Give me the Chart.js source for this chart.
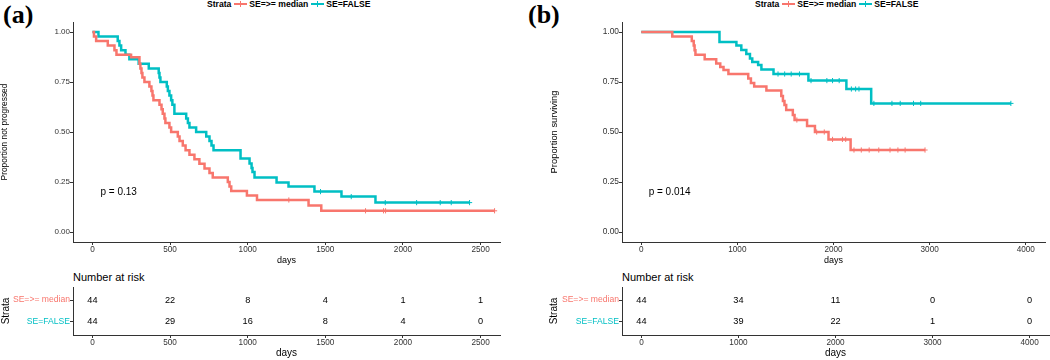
<!DOCTYPE html>
<html>
<head>
<title>Kaplan-Meier curves</title>
<script src="https://cdn.jsdelivr.net/npm/chart.js"></script>
<style>
  body { margin: 0; width: 1050px; height: 360px; position: relative; overflow: hidden; background: #fff;
         font-family: "Liberation Sans", Arial, sans-serif; }
  canvas { position: absolute; }
  .tag { position: absolute; top: 1px; font-family: "Liberation Serif", "Times New Roman", serif;
         font-weight: bold; font-size: 26px; line-height: 28px; color: #000; }
  .legend { position: absolute; top: -2px; height: 12px; display: flex; align-items: center;
            font-weight: bold; font-size: 8.6px; color: #000; white-space: nowrap; }
  .key { display: inline-block; position: relative; width: 13px; height: 2.6px; margin: 0 2px 0 3px; }
  .key::after { content: ""; position: absolute; left: 6px; top: -1.8px; width: 1px; height: 6px; background: inherit; }
  .risk-title { position: absolute; top: 271px; font-size: 11px; color: #000; }
</style>
</head>
<body>
<div class="tag" style="left:3px">(a)</div>
<div class="tag" style="left:528px">(b)</div>

<div class="legend" style="left:207px">Strata<span class="key" style="background:#F8766D"></span>SE=&gt;= median<span class="key" style="background:#00BFC4"></span>SE=FALSE</div>
<div class="legend" style="left:755px">Strata<span class="key" style="background:#F8766D"></span>SE=&gt;= median<span class="key" style="background:#00BFC4"></span>SE=FALSE</div>

<div class="risk-title" style="left:73px">Number at risk</div>
<div class="risk-title" style="left:622px">Number at risk</div>

<canvas id="kmA" width="525" height="270" style="left:0;top:0"></canvas>
<canvas id="riskA" width="525" height="90" style="left:0;top:270px"></canvas>
<canvas id="kmB" width="525" height="270" style="left:525px;top:0"></canvas>
<canvas id="riskB" width="525" height="90" style="left:525px;top:270px"></canvas>

<script>
    // ---- panel (a): progression ----
    const aMedianTimes = [0, 10, 24, 99, 142, 155, 249, 303, 309, 316, 322, 335, 367, 380, 387, 393, 432, 445, 453, 464, 470, 496, 507, 550, 561, 582, 600, 625, 657, 689, 722, 754, 775, 872, 883, 894, 995, 1060, 1392, 1474, 2590];
    const aMedianSurv = [1, 0.977, 0.955, 0.932, 0.909, 0.886, 0.874, 0.841, 0.818, 0.795, 0.773, 0.75, 0.727, 0.705, 0.682, 0.659, 0.636, 0.614, 0.591, 0.568, 0.545, 0.523, 0.5, 0.477, 0.455, 0.432, 0.409, 0.386, 0.364, 0.341, 0.318, 0.295, 0.273, 0.25, 0.227, 0.205, 0.182, 0.16, 0.133, 0.106, 0.106];
    const aMedianCensor = [1265, 1759, 1875, 1888, 2590];

    const aFalseTimes = [0, 39, 163, 174, 185, 213, 238, 298, 363, 427, 432, 438, 479, 486, 496, 507, 515, 528, 604, 615, 625, 668, 733, 754, 767, 780, 954, 1012, 1025, 1031, 1044, 1186, 1263, 1430, 1604, 1823, 2429];
    const aFalseSurv = [1, 0.977, 0.955, 0.932, 0.909, 0.886, 0.864, 0.841, 0.818, 0.795, 0.773, 0.75, 0.727, 0.705, 0.682, 0.659, 0.636, 0.591, 0.568, 0.545, 0.523, 0.5, 0.477, 0.455, 0.432, 0.409, 0.368, 0.343, 0.32, 0.3, 0.273, 0.247, 0.227, 0.202, 0.177, 0.147, 0.147];
    const aFalseCensor = [1469, 1667, 1886, 2088, 2240, 2311, 2429];

    const aTicks = [0, 500, 1000, 1500, 2000, 2500];
    const aRiskMedian = [44, 22, 8, 4, 1, 1];
    const aRiskFalse = [44, 29, 16, 8, 4, 0];

    // ---- panel (b): survival ----
    const bMedianTimes = [0, 323, 526, 546, 555, 564, 660, 780, 822, 856, 907, 1113, 1141, 1175, 1302, 1457, 1474, 1490, 1508, 1577, 1595, 1725, 1807, 1948, 2178, 2952];
    const bMedianSurv = [1, 0.977, 0.955, 0.932, 0.909, 0.886, 0.864, 0.843, 0.825, 0.81, 0.79, 0.768, 0.745, 0.727, 0.707, 0.68, 0.655, 0.635, 0.61, 0.585, 0.56, 0.53, 0.5, 0.463, 0.41, 0.41];
    const bMedianCensor = [1619, 1825, 1904, 1990, 2093, 2127, 2213, 2289, 2371, 2471, 2588, 2670, 2745, 2952];

    const bFalseTimes = [0, 814, 990, 1041, 1093, 1131, 1155, 1216, 1250, 1376, 1739, 2134, 2392, 3845];
    const bFalseSurv = [1, 0.95, 0.932, 0.91, 0.89, 0.868, 0.85, 0.835, 0.813, 0.79, 0.757, 0.715, 0.643, 0.643];
    const bFalseCensor = [1423, 1492, 1560, 1646, 1766, 1931, 1990, 2059, 2186, 2230, 2265, 2420, 2608, 2694, 2832, 2907, 3845];

    const bTicks = [0, 1000, 2000, 3000, 4000];
    const bRiskMedian = [44, 34, 11, 0, 0];
    const bRiskFalse = [44, 39, 22, 1, 0];

    const yTicks = [0, 0.25, 0.5, 0.75, 1];
    const strata = ['SE=FALSE', 'SE=>= median'];   // row 1, row 2

    const RED = '#F8766D';
    const CYAN = '#00BFC4';
    const AXIS = '#333333';

    Chart.defaults.font.family = "'Liberation Sans', Arial, sans-serif";
    Chart.defaults.animation = false;

    // survival value of a step curve at time t
    function survAt(times, surv, t) {
        let s = surv[0];
        for (let i = 0; i < times.length; i++) {
            if (times[i] <= t) s = surv[i];
        }
        return s;
    }

    // text "p = ..." placed in data units
    const pvalPlugin = {
        id: 'pval',
        afterDatasetsDraw(chart, args, opts) {
            if (!opts.text) return;
            const ctx = chart.ctx;
            ctx.save();
            ctx.font = '10px "Liberation Sans", Arial, sans-serif';
            ctx.fillStyle = '#000';
            ctx.textAlign = 'left';
            ctx.textBaseline = 'middle';
            ctx.fillText(opts.text, chart.scales.x.getPixelForValue(opts.x), chart.scales.y.getPixelForValue(opts.y));
            ctx.restore();
        }
    };

    // numbers of the risk table, written at each point's position
    const riskPlugin = {
        id: 'riskText',
        afterDatasetsDraw(chart) {
            const ctx = chart.ctx;
            ctx.save();
            ctx.font = '9.2px "Liberation Sans", Arial, sans-serif';
            ctx.fillStyle = '#000';
            ctx.textAlign = 'center';
            ctx.textBaseline = 'middle';
            chart.data.datasets.forEach((ds, i) => {
                chart.getDatasetMeta(i).data.forEach((el, j) => {
                    ctx.fillText(String(ds.data[j].n), el.x, el.y);
                });
            });
            ctx.restore();
        }
    };

    function xScale(ticks, min, max, height, titleSize, titlePad) {
        return {
            type: 'linear', min: min, max: max,
            afterBuildTicks: s => { s.ticks = ticks.map(v => ({ value: v })); },
            afterFit: s => { s.height = height; },
            grid: { drawOnChartArea: false, tickLength: 3, color: AXIS },
            border: { color: AXIS, width: 1 },
            ticks: { font: { size: 8.2 }, color: AXIS, padding: 0, maxRotation: 0, callback: v => String(v) },
            title: { display: true, text: 'days', color: '#000', font: { size: titleSize }, padding: { top: 0, bottom: titlePad } }
        };
    }

    function makeKm(id, cfg) {
        const datasets = [
            { data: cfg.medT.map((t, i) => ({ x: t, y: cfg.medS[i] })), borderColor: RED },
            { data: cfg.falT.map((t, i) => ({ x: t, y: cfg.falS[i] })), borderColor: CYAN }
        ].map(d => Object.assign(d, { showLine: true, stepped: true, borderWidth: 2.5, pointRadius: 0, fill: false }));

        datasets.push(
            { data: cfg.medC.map(t => ({ x: t, y: survAt(cfg.medT, cfg.medS, t) })), borderColor: RED },
            { data: cfg.falC.map(t => ({ x: t, y: survAt(cfg.falT, cfg.falS, t) })), borderColor: CYAN }
        );
        datasets[2].pointStyle = datasets[3].pointStyle = 'cross';
        datasets[2].pointRadius = datasets[3].pointRadius = 2.6;
        datasets[2].borderWidth = datasets[3].borderWidth = 1;

        return new Chart(document.getElementById(id), {
            type: 'scatter',
            data: { datasets: datasets },
            plugins: [pvalPlugin],
            options: {
                responsive: false,
                devicePixelRatio: 1,
                layout: { padding: { top: 22, right: cfg.right, left: 0, bottom: 0 } },
                plugins: { legend: { display: false }, tooltip: { enabled: false },
                           pval: { text: cfg.pval, x: cfg.pvalX, y: 0.2 } },
                scales: {
                    x: xScale(cfg.ticks, cfg.min, cfg.max, 28, 9, 4),
                    y: {
                        min: -0.05, max: 1.05,
                        afterBuildTicks: s => { s.ticks = yTicks.map(v => ({ value: v })); },
                        afterFit: s => { s.width = cfg.left; },
                        grid: { drawOnChartArea: false, tickLength: 3, color: AXIS },
                        border: { color: AXIS, width: 1 },
                        ticks: { font: { size: cfg.tickSize }, color: AXIS, padding: 0, callback: v => v.toFixed(2) },
                        title: { display: true, text: cfg.ytitle, color: '#000', font: { size: cfg.ytitleSize },
                                 padding: { top: cfg.ytitlePad, bottom: 0 } }
                    }
                }
            }
        });
    }

    function makeRisk(id, cfg) {
        const rows = [
            { data: cfg.ticks.map((t, i) => ({ x: t, y: 2, n: cfg.med[i] })) },
            { data: cfg.ticks.map((t, i) => ({ x: t, y: 1, n: cfg.fal[i] })) }
        ];
        rows.forEach(r => { r.pointRadius = 0; });

        return new Chart(document.getElementById(id), {
            type: 'scatter',
            data: { datasets: rows },
            plugins: [riskPlugin],
            options: {
                responsive: false,
                devicePixelRatio: 1,
                layout: { padding: { top: 17, right: cfg.right, left: 0, bottom: 0 } },
                plugins: { legend: { display: false }, tooltip: { enabled: false } },
                scales: {
                    x: xScale(cfg.ticks, cfg.min, cfg.max, 25, 10, 1),
                    y: {
                        min: 0.4, max: 2.6,
                        afterBuildTicks: s => { s.ticks = [1, 2].map(v => ({ value: v })); },
                        afterFit: s => { s.width = cfg.left; },
                        grid: { drawOnChartArea: false, tickLength: 3, color: AXIS },
                        border: { color: AXIS, width: 1 },
                        ticks: {
                            font: { size: 8.6 }, padding: 0,
                            color: c => (c.tick && c.tick.value === 2 ? RED : CYAN),
                            callback: v => strata[v - 1]
                        },
                        title: { display: true, text: 'Strata', color: '#000', font: { size: 10 },
                                 padding: { top: cfg.ytitlePad, bottom: 0 } }
                    }
                }
            }
        });
    }

    makeKm('kmA', {
        medT: aMedianTimes, medS: aMedianSurv, medC: aMedianCensor,
        falT: aFalseTimes, falS: aFalseSurv, falC: aFalseCensor,
        ticks: aTicks, min: -125, max: 2625, left: 73, right: 25,
        tickSize: 8, ytitle: 'Proportion not progressed', ytitleSize: 8.4, ytitlePad: 0,
        pval: 'p = 0.13', pvalX: 52
    });
    makeRisk('riskA', { ticks: aTicks, med: aRiskMedian, fal: aRiskFalse, min: -125, max: 2625, left: 73, right: 25, ytitlePad: 0 });

    makeKm('kmB', {
        medT: bMedianTimes, medS: bMedianSurv, medC: bMedianCensor,
        falT: bFalseTimes, falS: bFalseSurv, falC: bFalseCensor,
        ticks: bTicks, min: -200, max: 4200, left: 97, right: 1,
        tickSize: 8.4, ytitle: 'Proportion surviving', ytitleSize: 9.4, ytitlePad: 24,
        pval: 'p = 0.014', pvalX: 77
    });
    makeRisk('riskB', { ticks: bTicks, med: bRiskMedian, fal: bRiskFalse, min: -200, max: 4200, left: 97, right: 1, ytitlePad: 23 });
</script>
</body>
</html>
